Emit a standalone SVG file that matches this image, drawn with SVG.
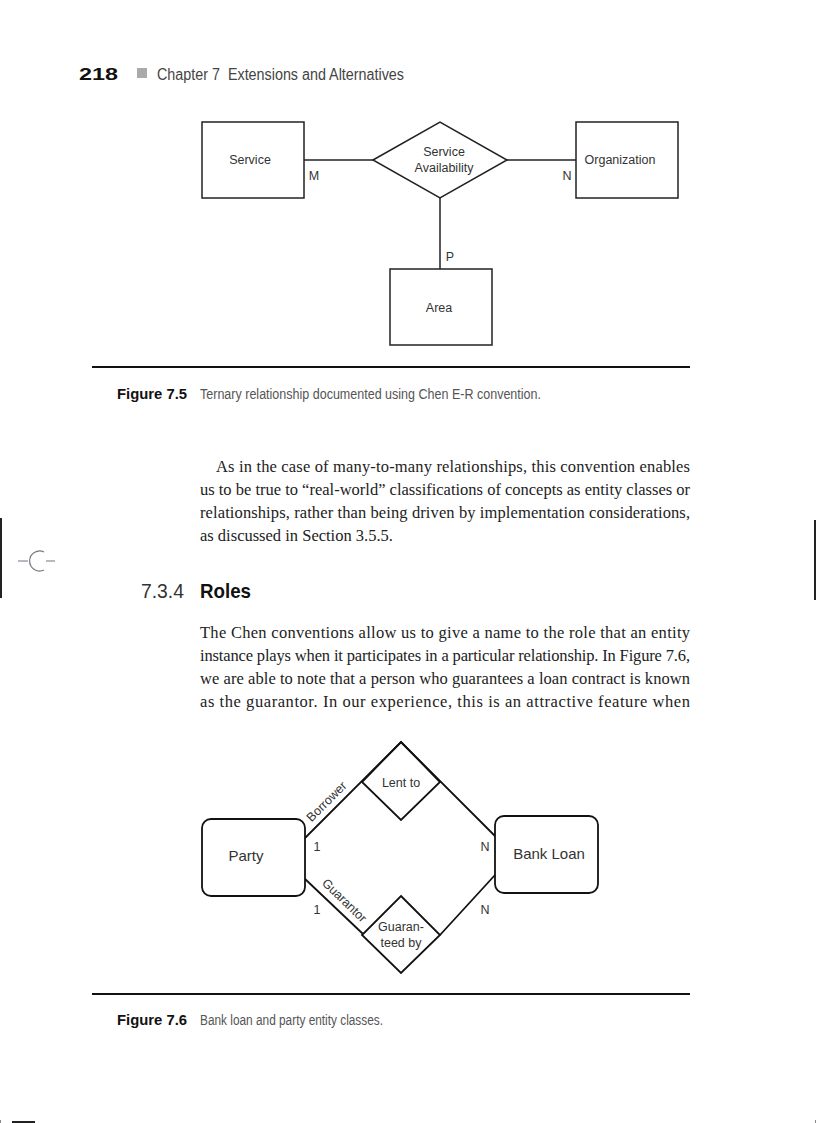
<svg xmlns="http://www.w3.org/2000/svg" width="816" height="1123" viewBox="0 0 816 1123">
<style>
.body{font-family:"Liberation Serif",serif;font-size:16.5px;fill:#222}
.dg{font-family:"Liberation Sans",Arial,sans-serif;font-size:12.5px;fill:#333}
.dgl{font-family:"Liberation Sans",Arial,sans-serif;font-size:15px;fill:#333}
.cap{font-family:"Liberation Sans",Arial,sans-serif;font-size:14px;fill:#555}
.capb{font-family:"Liberation Sans",Arial,sans-serif;font-size:14px;font-weight:bold;fill:#111}
.box{fill:#fff;stroke:#222;stroke-width:1.5}
.ln{fill:none;stroke:#222;stroke-width:1.5}
.ln2{fill:none;stroke:#111;stroke-width:1.8}
.box2{fill:#fff;stroke:#111;stroke-width:1.8}
</style>
<rect width="816" height="1123" fill="#fff"/>

<!-- page header -->
<text x="79" y="80" font-family="Liberation Sans,Arial,sans-serif" font-size="16" font-weight="bold" fill="#111" textLength="39" lengthAdjust="spacingAndGlyphs">218</text>
<rect x="137" y="68" width="10" height="10" fill="#aaa"/>
<text x="157" y="80" font-family="Liberation Sans,Arial,sans-serif" font-size="16" fill="#444" textLength="247" lengthAdjust="spacingAndGlyphs" xml:space="preserve">Chapter 7  Extensions and Alternatives</text>

<!-- Figure 7.5 -->
<g id="fig75-connectors">
  <line class="ln" x1="304" y1="160" x2="373" y2="160"/>
  <line class="ln" x1="507" y1="160" x2="576" y2="160"/>
  <line class="ln" x1="440" y1="198" x2="440" y2="269"/>
</g>
<g id="service">
  <rect class="box" x="202" y="122" width="102" height="76"/>
  <text class="dg" x="250" y="164" text-anchor="middle">Service</text>
</g>
<g id="service-availability">
  <polygon class="box" points="373,160 440,122 507,160 440,198"/>
  <text class="dg" x="444" y="156" text-anchor="middle">Service</text>
  <text class="dg" x="444" y="172" text-anchor="middle">Availability</text>
</g>
<g id="organization">
  <rect class="box" x="576" y="122" width="102" height="76"/>
  <text class="dg" x="620" y="164" text-anchor="middle">Organization</text>
</g>
<g id="area">
  <rect class="box" x="390" y="269" width="102" height="76"/>
  <text class="dg" x="439" y="312" text-anchor="middle">Area</text>
</g>
<g id="fig75-labels">
  <text class="dg" x="314" y="180" text-anchor="middle">M</text>
  <text class="dg" x="567" y="180" text-anchor="middle">N</text>
  <text class="dg" x="450" y="261" text-anchor="middle">P</text>
</g>

<line x1="92" y1="367" x2="690" y2="367" stroke="#111" stroke-width="2"/>
<text class="capb" x="117" y="399" textLength="70" lengthAdjust="spacingAndGlyphs">Figure 7.5</text>
<text class="cap" x="200" y="399" textLength="341" lengthAdjust="spacingAndGlyphs">Ternary relationship documented using Chen E-R convention.</text>

<!-- body paragraph 1 -->
<text class="body" x="216" y="472" textLength="474" lengthAdjust="spacing">As in the case of many-to-many relationships, this convention enables</text>
<text class="body" x="200" y="495" textLength="490" lengthAdjust="spacing">us to be true to “real-world” classifications of concepts as entity classes or</text>
<text class="body" x="200" y="518" textLength="490" lengthAdjust="spacing">relationships, rather than being driven by implementation considerations,</text>
<text class="body" x="200" y="541">as discussed in Section 3.5.5.</text>

<!-- margin marks -->
<rect x="0" y="518" width="2" height="80" fill="#222"/>
<rect x="814" y="520" width="2" height="80" fill="#222"/>
<path d="M44 552 A10 10 0 1 0 44 570" fill="none" stroke="#777" stroke-width="1.2"/>
<line x1="18" y1="561" x2="28" y2="561" stroke="#889" stroke-width="1.2"/>
<line x1="46" y1="561" x2="55" y2="561" stroke="#889" stroke-width="1.2"/>

<!-- heading -->
<text x="141" y="598" font-family="Liberation Sans,Arial,sans-serif" font-size="21" fill="#333" textLength="43" lengthAdjust="spacingAndGlyphs">7.3.4</text>
<text x="200" y="598" font-family="Liberation Sans,Arial,sans-serif" font-size="21" font-weight="bold" fill="#111" textLength="51" lengthAdjust="spacingAndGlyphs">Roles</text>

<!-- body paragraph 2 -->
<text class="body" x="200" y="638" textLength="490" lengthAdjust="spacing">The Chen conventions allow us to give a name to the role that an entity</text>
<text class="body" x="200" y="661" textLength="490" lengthAdjust="spacing">instance plays when it participates in a particular relationship. In Figure 7.6,</text>
<text class="body" x="200" y="684" textLength="490" lengthAdjust="spacing">we are able to note that a person who guarantees a loan contract is known</text>
<text class="body" x="200" y="707" textLength="490" lengthAdjust="spacing">as the guarantor. In our experience, this is an attractive feature when</text>

<!-- Figure 7.6 -->
<g id="fig76-connectors">
  <polyline class="ln2" points="304,839 401,742 495,836"/>
  <line class="ln2" x1="304" y1="878" x2="363" y2="934"/>
  <line class="ln2" x1="440" y1="935" x2="495" y2="875"/>
</g>
<g id="lent-to">
  <polygon class="ln2" points="401,742 440,782 401,820 362,782"/>
  <text class="dg" x="401" y="787" text-anchor="middle">Lent to</text>
</g>
<g id="guaranteed-by">
  <polygon class="box2" points="401,896 440,935 401,973 362,935"/>
  <text class="dg" x="401" y="931" text-anchor="middle">Guaran-</text>
  <text class="dg" x="401" y="947" text-anchor="middle">teed by</text>
</g>
<g id="party">
  <rect class="box2" x="202" y="819" width="103" height="77" rx="9"/>
  <text class="dgl" x="246" y="861" text-anchor="middle">Party</text>
</g>
<g id="bank-loan">
  <rect class="box2" x="495" y="816" width="103" height="77" rx="9"/>
  <text class="dgl" x="549" y="859" text-anchor="middle">Bank Loan</text>
</g>
<g id="fig76-labels">
  <text class="dg" x="317" y="851" text-anchor="middle">1</text>
  <text class="dg" x="317" y="914" text-anchor="middle">1</text>
  <text class="dg" x="485" y="851" text-anchor="middle">N</text>
  <text class="dg" x="485" y="914" text-anchor="middle">N</text>
  <text class="dg" x="329.5" y="804.5" text-anchor="middle" transform="rotate(-45 329.5 804.5)">Borrower</text>
  <text class="dg" x="341.5" y="903.5" text-anchor="middle" transform="rotate(44 341.5 903.5)">Guarantor</text>
</g>

<line x1="92" y1="994" x2="690" y2="994" stroke="#111" stroke-width="2"/>
<text class="capb" x="117" y="1025" textLength="70" lengthAdjust="spacingAndGlyphs">Figure 7.6</text>
<text class="cap" x="200" y="1025" textLength="183" lengthAdjust="spacingAndGlyphs">Bank loan and party entity classes.</text>

<!-- bottom marks -->
<rect x="12" y="1121" width="23" height="2" fill="#222"/>
<rect x="0" y="1120" width="1" height="3" fill="#888"/>
<rect x="815" y="1120" width="1" height="3" fill="#888"/>
</svg>
